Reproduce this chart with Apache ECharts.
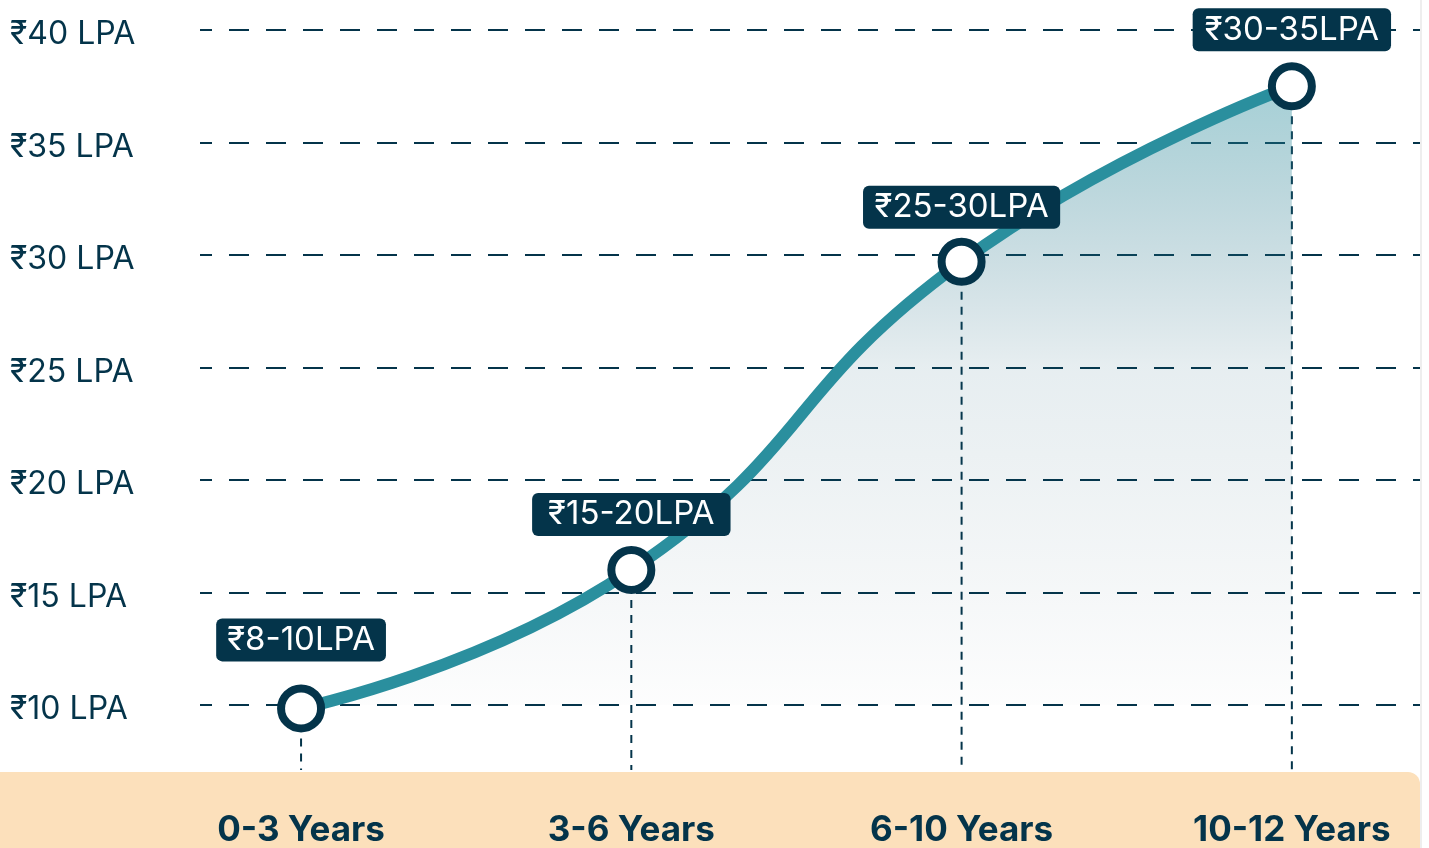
<!DOCTYPE html>
<html>
<head>
<meta charset="utf-8">
<script src="https://cdn.jsdelivr.net/npm/echarts@6/dist/echarts.min.js"></script>
<style>
html,body{margin:0;padding:0;background:#ffffff;}
#chart{width:1429px;height:848px;}
</style>
</head>
<body>
<div id="chart"></div>
<script>
// ---- data ----
const categories = ['0-3 Years', '3-6 Years', '6-10 Years', '10-12 Years'];
const salaryValues = [9.85, 16.0, 29.7, 37.5];
const rangeLabels = ['₹8-10LPA', '₹15-20LPA', '₹25-30LPA', '₹30-35LPA'];
const yTicks = [10, 15, 20, 25, 30, 35, 40];
const yTickLabel = v => '₹' + v + ' LPA';

const NAVY = '#04344a';
const TEAL = '#2a8f9e';
const FONT = 'Inter, "Noto Sans", sans-serif';
const LABEL_GAPS = [23, 10, 9, 11];
const LABEL_PADS = [[6, 11], [6, 16], [6, 11.5], [6, 12]];

const chart = echarts.init(document.getElementById('chart'), null, {renderer: 'canvas'});

const lineData = salaryValues.map((v, i) => ({
  value: [i, v],
  label: {distance: LABEL_GAPS[i], padding: LABEL_PADS[i]}
}));

const Y_MIN = yTicks[0], Y_MAX = yTicks[yTicks.length - 1];

chart.setOption({
  animation: false,
  backgroundColor: '#ffffff',
  textStyle: {fontFamily: FONT},
  grid: {left: 200, right: 9, top: 30, bottom: 141},
  graphic: [
    {type: 'rect', z: -10, shape: {x: -20, y: 772, width: 1440, height: 120, r: 12}, style: {fill: '#fce0bb'}},
    {type: 'rect', z: -10, shape: {x: 1420, y: 0, width: 2, height: 848}, style: {fill: '#eeeeee'}}
  ],
  xAxis: {
    type: 'value',
    min: -0.306,
    max: 3.388,
    axisLine: {show: false},
    axisTick: {show: false},
    splitLine: {show: false},
    axisLabel: {
      customValues: [0, 1, 2, 3],
      formatter: v => categories[Math.round(v)] || '',
      color: NAVY,
      fontFamily: FONT,
      fontWeight: 'bold',
      fontSize: 35,
      lineHeight: 36,
      margin: 107
    }
  },
  yAxis: {
    type: 'value',
    min: Y_MIN,
    max: Y_MAX,
    interval: 5,
    axisLine: {show: false},
    axisTick: {show: false},
    axisLabel: {
      formatter: yTickLabel,
      align: 'left',
      verticalAlign: 'top',
      margin: 190,
      color: NAVY,
      fontFamily: FONT,
      fontSize: 32,
      lineHeight: 9
    },
    splitLine: {
      lineStyle: {color: NAVY, width: 2, type: [20, 17], dashOffset: 8}
    }
  },
  series: [
    {
      type: 'custom',
      z: 1,
      clip: false,
      data: salaryValues.map((v, i) => [i, v]),
      renderItem: (params, api) => {
        const p = api.coord([api.value(0), api.value(1)]);
        const b = api.coord([api.value(0), Y_MIN]);
        return {
          type: 'line',
          shape: {x1: p[0], y1: p[1], x2: b[0], y2: b[1] + 65},
          style: {stroke: NAVY, lineWidth: 2, lineDash: [8, 7]}
        };
      }
    },
    {
      type: 'line',
      z: 2,
      clip: false,
      data: lineData,
      smooth: 0.5,
      symbol: 'circle',
      symbolSize: 40,
      showAllSymbol: true,
      lineStyle: {color: TEAL, width: 12},
      itemStyle: {color: '#ffffff', borderColor: NAVY, borderWidth: 8},
      areaStyle: {
        color: new echarts.graphic.LinearGradient(0, 0, 0, 1, [
          {offset: 0, color: 'rgba(42,143,158,0.6)'},
          {offset: 0.45, color: 'rgba(20,90,115,0.15)'},
          {offset: 1, color: 'rgba(6,52,73,0.01)'}
        ])
      },
      label: {
        show: true,
        position: 'top',
        formatter: p => rangeLabels[p.dataIndex],
        color: '#ffffff',
        fontFamily: FONT,
        fontSize: 33,
        lineHeight: 31,
        backgroundColor: NAVY,
        borderRadius: 6
      }
    }
  ]
});
</script>
</body>
</html>
